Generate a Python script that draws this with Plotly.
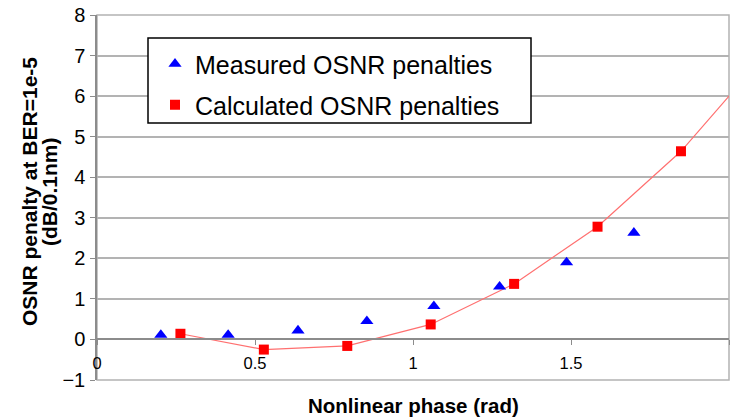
import plotly.graph_objects as go

# Data
measured_x = [0.202, 0.415, 0.636, 0.854, 1.066, 1.274, 1.486, 1.699]
measured_y = [0.11, 0.11, 0.22, 0.45, 0.82, 1.30, 1.90, 2.63]

calc_x = [0.264, 0.528, 0.792, 1.056, 1.320, 1.584, 1.848, 2.112]
calc_y = [0.14, -0.25, -0.16, 0.37, 1.37, 2.78, 4.64, 7.0]

x_ticks = [0, 0.5, 1, 1.5, 2]
x_tick_text = ["0", "0.5", "1", "1.5", "2"]
y_ticks = [-1, 0, 1, 2, 3, 4, 5, 6, 7, 8]

FONT = "Liberation Sans, Arial, sans-serif"
GRID = "#b3b3b3"
AXIS = "#8c8c8c"

fig = go.Figure()

# calculated curve (line only, not in legend)
fig.add_trace(go.Scatter(
    x=calc_x, y=calc_y, mode="lines",
    line=dict(color="#ff7070", width=1.2),
    showlegend=False, hoverinfo="skip",
))
fig.add_trace(go.Scatter(
    x=measured_x, y=measured_y, mode="markers",
    name="Measured OSNR penalties",
    marker=dict(symbol="triangle-up", size=11.5, color="#0000ff", line=dict(width=0)),
    legend="legend",
))
fig.add_trace(go.Scatter(
    x=calc_x, y=calc_y, mode="markers",
    name="Calculated OSNR penalties",
    marker=dict(symbol="square", size=10, color="#ff0000", line=dict(width=0)),
    legend="legend2",
))

# plot area: left 97, right 729, top 15, bottom 380
L, R, T, B = 97, 729, 15, 380
W, H = 730, 419
pw, ph = R - L, B - T

def px_x(p):
    return (p - L) / pw

def px_y(p):
    return (B - p) / ph

LEG_FONT = dict(size=25, family=FONT, color="black")

fig.update_layout(
    width=W, height=H,
    margin=dict(l=L, r=W - R, t=T, b=H - B, pad=0),
    paper_bgcolor="white", plot_bgcolor="white",
    font=dict(family=FONT, color="black"),
    showlegend=True,
    legend=dict(
        x=px_x(155), y=px_y(64), xanchor="left", yanchor="middle",
        bgcolor="rgba(0,0,0,0)", borderwidth=0,
        font=LEG_FONT, itemsizing="trace",
    ),
    legend2=dict(
        x=px_x(155), y=px_y(105), xanchor="left", yanchor="middle",
        bgcolor="rgba(0,0,0,0)", borderwidth=0,
        font=LEG_FONT, itemsizing="trace",
    ),
    xaxis=dict(
        range=[0, 2], tickvals=x_ticks, ticktext=x_tick_text,
        anchor="free", position=1 / 9,
        showgrid=False, zeroline=False,
        showline=True, linecolor=AXIS, linewidth=1.5,
        ticks="outside", ticklen=5, tickcolor=AXIS, tickwidth=1.2,
        tickfont=dict(size=16.5, family=FONT, color="black"),
        ticklabelstandoff=4,
    ),
    yaxis=dict(
        range=[-1, 8], tickvals=y_ticks,
        showgrid=True, gridcolor=GRID, gridwidth=1.5,
        zeroline=False,
        showline=True, linecolor=AXIS, linewidth=1.5,
        ticks="outside", ticklen=5, tickcolor=AXIS, tickwidth=1.2,
        tickfont=dict(size=20, family=FONT, color="black"),
        ticklabelstandoff=1,
    ),
    shapes=[
        # frame of the plot area
        dict(type="rect", xref="paper", yref="paper", x0=0, x1=1, y0=0, y1=1,
             line=dict(color=GRID, width=1.5), fillcolor="rgba(0,0,0,0)", layer="below"),
        # legend box
        dict(type="rect", xref="paper", yref="paper",
             x0=px_x(148), x1=px_x(531), y0=px_y(123), y1=px_y(38),
             line=dict(color="black", width=1.5), fillcolor="white", layer="above"),
    ],
    annotations=[
        dict(text="<b>OSNR penalty at BER=1e-5</b>", xref="paper", yref="paper",
             x=px_x(29), y=px_y(192), xanchor="center", yanchor="middle",
             textangle=-90, showarrow=False,
             font=dict(size=21, family=FONT, color="black")),
        dict(text="<b>(dB/0.1nm)</b>", xref="paper", yref="paper",
             x=px_x(49), y=px_y(192), xanchor="center", yanchor="middle",
             textangle=-90, showarrow=False,
             font=dict(size=21, family=FONT, color="black")),
        dict(text="<b>Nonlinear phase (rad)</b>", xref="paper", yref="paper",
             x=px_x(413), y=px_y(405), xanchor="center", yanchor="middle",
             showarrow=False,
             font=dict(size=20.5, family=FONT, color="black")),
    ],
)

fig.write_html("out.html")
